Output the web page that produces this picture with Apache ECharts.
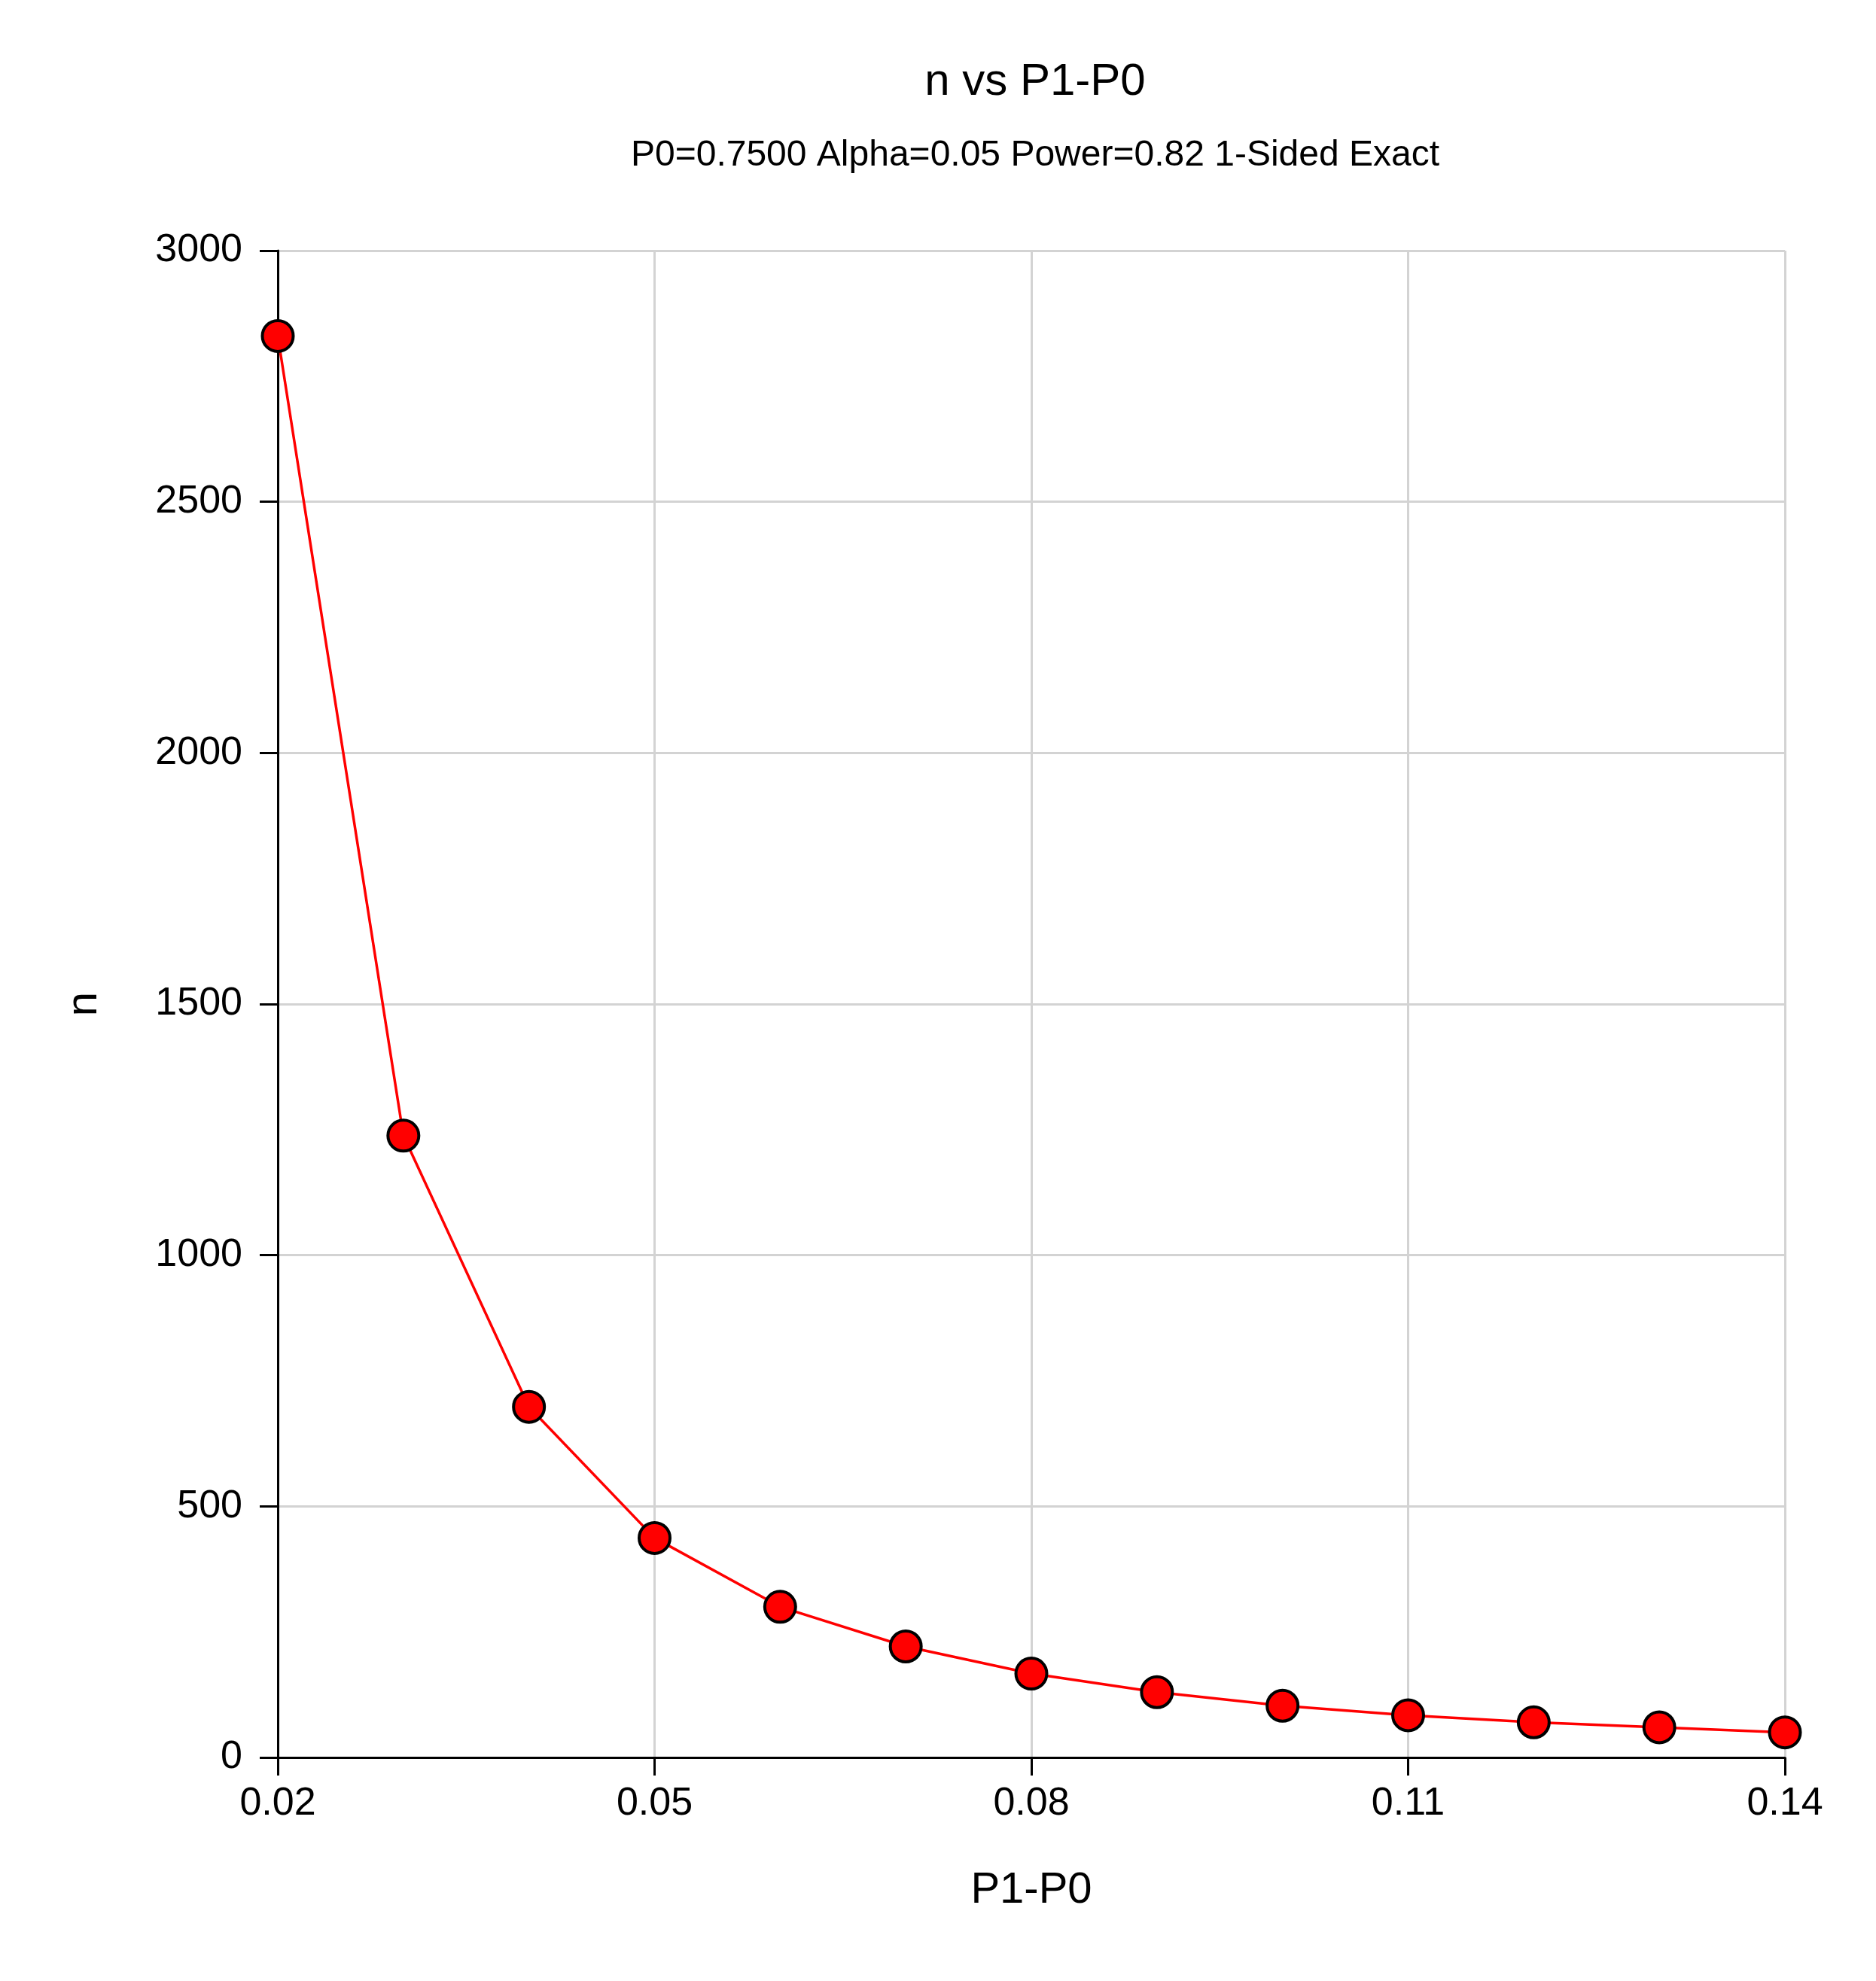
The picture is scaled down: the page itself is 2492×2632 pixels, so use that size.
<!DOCTYPE html>
<html>
<head>
<meta charset="utf-8">
<script src="https://cdn.jsdelivr.net/npm/echarts@6/dist/echarts.min.js"></script>
<style>
html,body{margin:0;padding:0;background:#fff;}
#chart{width:2492px;height:2632px;}
</style>
</head>
<body>
<div id="chart"></div>
<script>
const xValues = [0.02, 0.03, 0.04, 0.05, 0.06, 0.07, 0.08, 0.09, 0.10, 0.11, 0.12, 0.13, 0.14];
const nValues = [2830, 1238, 698, 437, 300, 221, 167, 130, 103, 84, 70, 60, 50];
const titleText = 'n vs P1-P0';
const subtitleText = 'P0=0.7500 Alpha=0.05 Power=0.82 1-Sided Exact';
const xName = 'P1-P0';
const yName = 'n';

const FONT = '"Liberation Sans", Arial, sans-serif';
const chart = echarts.init(document.getElementById('chart'));
chart.setOption({
  backgroundColor: '#ffffff',
  animation: false,
  title: [
    { text: titleText, left: 1370, textAlign: 'center', top: 74, textStyle: { fontFamily: FONT, fontSize: 60, fontWeight: 'normal', color: '#000' } },
    { text: subtitleText, left: 1370, textAlign: 'center', top: 178, textStyle: { fontFamily: FONT, fontSize: 48, fontWeight: 'normal', color: '#000' } }
  ],
  grid: { left: 369, right: 121, top: 333, bottom: 297, containLabel: false },
  xAxis: {
    type: 'category',
    data: xValues.map(v => v.toFixed(2)),
    boundaryGap: false,
    name: xName,
    nameLocation: 'middle',
    nameGap: 148,
    nameTextStyle: { fontFamily: FONT, fontSize: 58, color: '#000' },
    axisLine: { show: true, lineStyle: { color: '#000', width: 3 } },
    axisTick: { show: true, interval: 2, length: 24, lineStyle: { color: '#000', width: 3 } },
    axisLabel: { interval: 2, margin: 36, fontFamily: FONT, fontSize: 52, color: '#000' },
    splitLine: { show: true, interval: 2, lineStyle: { color: '#d3d3d3', width: 3 } }
  },
  yAxis: {
    type: 'value',
    min: 0, max: 3000, interval: 500,
    name: yName,
    nameLocation: 'middle',
    nameGap: 228,
    nameTextStyle: { fontFamily: FONT, fontSize: 58, color: '#000' },
    axisLine: { show: true, lineStyle: { color: '#000', width: 3 } },
    axisTick: { show: true, length: 24, lineStyle: { color: '#000', width: 3 } },
    axisLabel: { margin: 47, fontFamily: FONT, fontSize: 52, color: '#000', formatter: v => String(v) },
    splitLine: { show: true, lineStyle: { color: '#d3d3d3', width: 3 } }
  },
  series: [{
    type: 'line',
    data: nValues,
    symbol: 'circle',
    symbolSize: 41,
    lineStyle: { color: '#ff0000', width: 3.5 },
    itemStyle: { color: '#ff0000', borderColor: '#000', borderWidth: 4 },
    z: 5
  }]
});
</script>
</body>
</html>
